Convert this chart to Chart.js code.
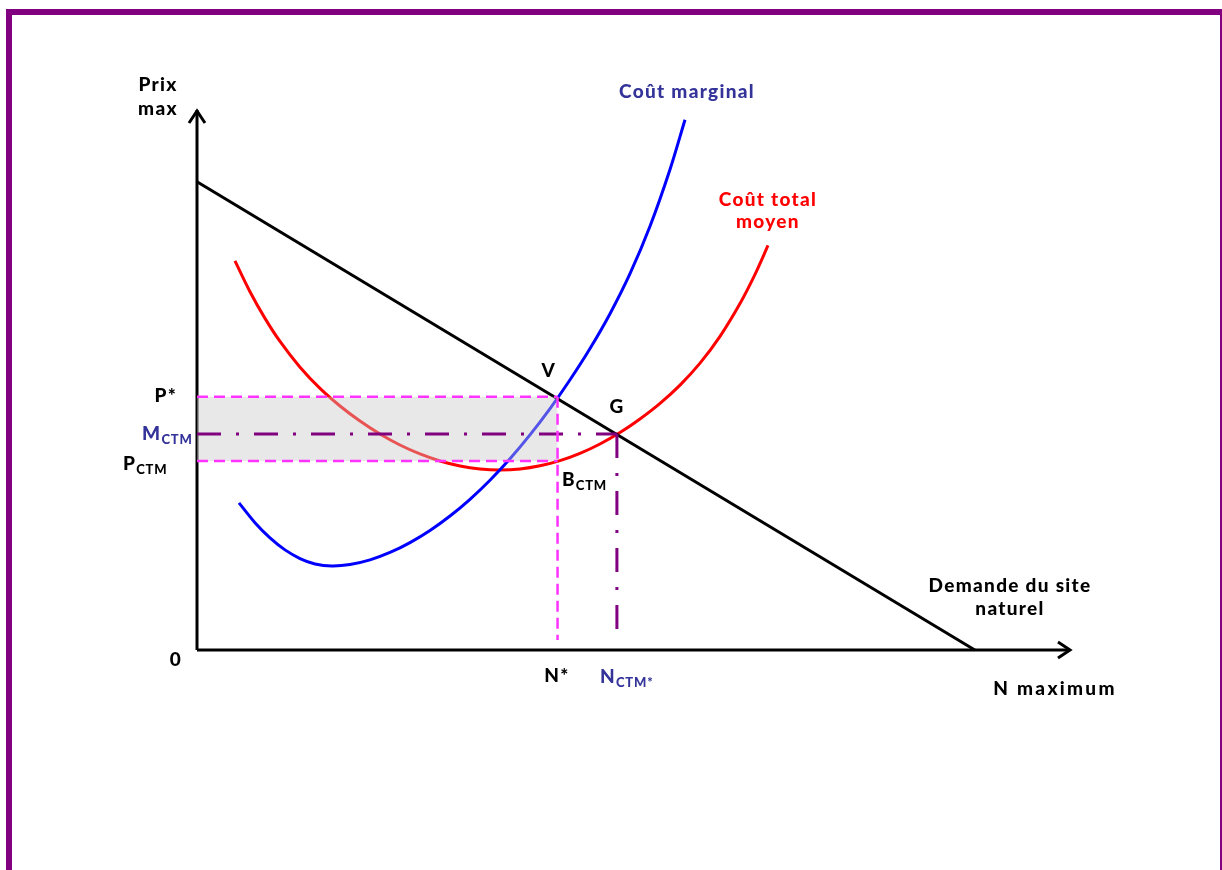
<!DOCTYPE html>
<html><head><meta charset="utf-8">
<script src="https://cdn.jsdelivr.net/npm/chart.js@4.4.1/dist/chart.umd.min.js"></script>
<style>
html,body{margin:0;padding:0;background:#fff;overflow:hidden;}
#wrap{position:relative;width:1222px;height:870px;}
#frame{position:absolute;left:6px;top:9px;width:1208px;height:900px;border:6px solid #800080;pointer-events:none;}
canvas{position:absolute;left:0;top:0;}
</style></head>
<body>
<div id="wrap"><canvas id="c" width="1222" height="870"></canvas><div id="frame"></div></div>
<script>
// ---- data (arbitrary units 0..100) ----
const mcX  = [4.81, 6.64, 8.36, 10.08, 11.80, 13.52, 15.46, 17.53, 19.82, 22.11, 24.40, 26.69, 28.98,
              31.27, 33.56, 35.85, 38.14, 40.44, 42.73, 45.02, 47.31, 49.60, 51.89, 54.18, 55.90];
const mcY  = [27.24, 23.57, 20.76, 18.54, 16.94, 15.94, 15.56, 15.83, 16.69, 18.06, 19.89, 22.13, 24.81,
              27.91, 31.44, 35.41, 39.83, 44.70, 50.04, 55.83, 62.28, 69.69, 78.46, 88.98, 98.20];
const ctmX = [4.35, 6.07, 7.79, 9.51, 11.80, 14.09, 16.38, 18.67, 20.96, 23.25, 25.54, 27.84, 30.13, 32.42, 34.71,
              37.00, 39.29, 41.58, 43.87, 46.16, 48.45, 50.74, 53.04, 55.33, 57.62, 59.91, 62.20, 63.92, 65.41];
const ctmY = [72.06, 66.35, 61.41, 57.13, 52.36, 48.44, 45.19, 42.41, 40.00, 37.96, 36.30, 35.00, 34.07, 33.52, 33.33,
              33.52, 34.11, 35.07, 36.41, 38.15, 40.26, 42.78, 45.67, 49.06, 53.13, 58.09, 64.17, 69.57, 74.91];
const demandX = [0, 89.1];
const demandY = [86.7, 0];
const pStar = 46.9, pCtm = 35.0, mCtm = 40.0;
const nStar = 41.3, nCtm = 48.1;
const axisMax = 100;

const pts = (xs, ys) => xs.map((x, i) => ({x, y: ys[i]}));
const NAVY = '#333399', PINK = '#ff33ff', PURPLE = '#800080';

const labels = [
  {t:'Prix', x:-4.47, y:104.6, c:'#000', a:'center'},
  {t:'max', x:-4.47, y:100.2, c:'#000', a:'center'},
  {t:'Coût marginal', x:56.13, y:103.3, c:NAVY, a:'center'},
  {t:'Coût total', x:65.4, y:83.3, c:'#ff0000', a:'center'},
  {t:'moyen', x:65.4, y:79.3, c:'#ff0000', a:'center'},
  {t:'V', x:40.3, y:51.7, c:'#000', a:'center'},
  {t:'G', x:48.1, y:45.0, c:'#000', a:'center'},
  {t:'P*', x:-2.29, y:47.0, c:'#000', a:'right'},
  {t:'M', sub:'CTM', x:-6.3, y:40.0, c:NAVY, a:'left'},
  {t:'P', sub:'CTM', x:-8.48, y:34.4, c:'#000', a:'left'},
  {t:'B', sub:'CTM', x:41.8, y:31.5, c:'#000', a:'left'},
  {t:'0', x:-2.41, y:-1.85, c:'#000', a:'center'},
  {t:'N*', x:41.24, y:-4.8, c:'#000', a:'center'},
  {t:'N', sub:'CTM*', x:46.16, y:-5.0, c:NAVY, a:'left'},
  {t:'Demande du site', x:93.13, y:11.85, c:'#000', a:'center'},
  {t:'naturel', x:93.13, y:7.6, c:'#000', a:'center'},
  {t:'N maximum', x:98.28, y:-7.22, c:'#000', a:'center', ls:'2.3px'}
];

const FONT = 'Lato';
const decor = {
  id:'decor',
  afterDatasetsDraw(chart){
    const ctx = chart.ctx, xs = chart.scales.x, ys = chart.scales.y;
    ctx.save();
    // arrowheads
    ctx.strokeStyle = '#000'; ctx.lineWidth = 3; ctx.lineJoin='miter'; ctx.lineCap='butt';
    const ox = xs.getPixelForValue(0), oy = ys.getPixelForValue(0);
    const ty = ys.getPixelForValue(axisMax), tx = xs.getPixelForValue(axisMax);
    ctx.beginPath(); ctx.moveTo(ox-8, ty+13); ctx.lineTo(ox, ty+1); ctx.lineTo(ox+8, ty+13); ctx.stroke();
    ctx.beginPath(); ctx.moveTo(tx-12, oy-8); ctx.lineTo(tx, oy); ctx.lineTo(tx-12, oy+8); ctx.stroke();
    // labels
    ctx.textBaseline = 'middle';
    for (const l of labels){
      const px = xs.getPixelForValue(l.x), py = ys.getPixelForValue(l.y);
      ctx.fillStyle = l.c;
      ctx.font = '900 19px ' + FONT;
      ctx.letterSpacing = l.ls || '1.3px';
      if (l.sub){
        ctx.textAlign = 'left';
        ctx.fillText(l.t, px, py);
        const w = ctx.measureText(l.t).width;
        ctx.font = '900 13px ' + FONT;
        ctx.letterSpacing = '0.8px';
        ctx.fillText(l.sub, px + w, py + 6);
      } else {
        ctx.textAlign = l.a;
        ctx.fillText(l.t, px, py);
      }
    }
    ctx.restore();
  }
};

const ds = [
  // dashed pink guides
  {data: pts([0, nStar], [pStar, pStar]), borderColor: PINK, borderWidth: 2.5, borderDash:[11,6]},
  {data: pts([0, nStar], [pCtm, pCtm]), borderColor: PINK, borderWidth: 2.5, borderDash:[11,6]},
  {data: pts([nStar, nStar], [pStar, 1.85]), borderColor: PINK, borderWidth: 2.5, borderDash:[11,6]},
  // purple dash-dot guides
  {data: pts([0, nCtm], [mCtm, mCtm]), borderColor: PURPLE, borderWidth: 3, borderDash:[24,15,3,15]},
  {data: pts([nCtm, nCtm], [mCtm, 1.85]), borderColor: PURPLE, borderWidth: 3, borderDash:[24,15,3,15]},
  // shaded rectangle (top edge, filled down to pCtm)
  {data: pts([0, nStar], [pStar, pStar]), borderColor: 'rgba(0,0,0,0)', borderWidth: 0,
   fill: {value: pCtm}, backgroundColor: 'rgba(200,200,200,0.42)'},
  // demand
  {data: pts(demandX, demandY), borderColor: '#000', borderWidth: 3},
  // curves
  {data: pts(mcX, mcY), borderColor: '#0000ff', borderWidth: 3, tension: 0.3},
  {data: pts(ctmX, ctmY), borderColor: '#ff0000', borderWidth: 3, tension: 0.3},
  // axes
  {data: pts([0, 0], [0, axisMax]), borderColor: '#000', borderWidth: 3},
  {data: pts([0, axisMax], [0, 0]), borderColor: '#000', borderWidth: 3}
].map(d => Object.assign({showLine: true, pointRadius: 0, clip: false, fill: false}, d));

new Chart(document.getElementById('c'), {
  type: 'scatter',
  data: {datasets: ds},
  options: {
    responsive: false, animation: false, events: [],
    layout: {padding: {left: 197, right: 152, top: 110, bottom: 220}},
    scales: {
      x: {type: 'linear', min: 0, max: 100, display: false},
      y: {type: 'linear', min: 0, max: 100, display: false}
    },
    plugins: {legend: {display: false}, tooltip: {enabled: false}}
  },
  plugins: [decor]
});
</script>
</body></html>
